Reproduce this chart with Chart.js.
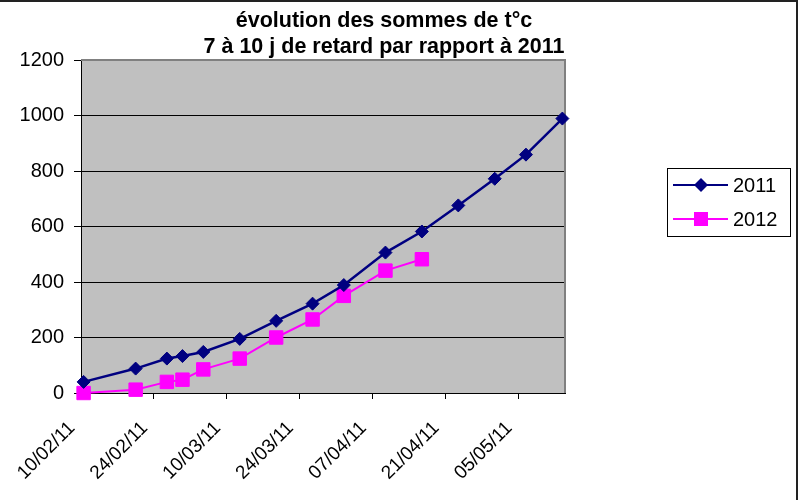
<!DOCTYPE html>
<html>
<head>
<meta charset="utf-8">
<script src="https://cdn.jsdelivr.net/npm/chart.js@4.4.0/dist/chart.umd.min.js"></script>
<style>
  html, body { margin: 0; padding: 0; background: #fff; }
  #wrap { width: 803px; height: 500px; }
</style>
</head>
<body>
<div id="wrap"><canvas id="myChart" width="803" height="500"></canvas></div>
<script>
// dates of the readings (same calendar for both years)
const dates = ["10/02", "20/02", "26/02", "01/03", "05/03", "12/03", "19/03", "26/03",
  "01/04", "09/04", "16/04", "23/04", "30/04", "06/05", "13/05"];
const sums2011 = [40, 88, 124, 133, 148, 195, 260, 322, 389, 506, 582, 676, 772, 859, 989];
const sums2012 = [0, 12, 40, 48, 85, 124, 200, 265, 350, 441, 482];
const yTicks = [0, 200, 400, 600, 800, 1000, 1200];
const xTickDays = [0, 14, 28, 42, 56, 70, 84];
const titleLines = ["évolution des sommes de t°c", "7 à 10 j de retard par rapport à 2011"];

const start = Date.UTC(2011, 1, 10);
const dayOf = (s) => {
  let [d, m] = s.split("/");
  return Math.round((Date.UTC(2011, +m - 1, +d) - start) / 86400000);
};
const fmt = (v) => {
  let d = new Date(start + v * 86400000);
  let dd = String(d.getUTCDate()).padStart(2, "0");
  let mm = String(d.getUTCMonth() + 1).padStart(2, "0");
  return dd + "/" + mm + "/11";
};
const pts = (vals) => vals.map((v, i) => ({ x: dayOf(dates[i]) + 0.5, y: v }));

const FONT = "Arial, 'Liberation Sans', sans-serif";

// grey plot area, grey top/right border, title, boxed legend, outer frame
const excelLook = {
  id: "excelLook",
  beforeDraw(chart) {
    let { ctx, chartArea: a } = chart;
    ctx.save();
    ctx.fillStyle = "#c0c0c0";
    ctx.fillRect(a.left, a.top, a.right - a.left, a.bottom - a.top);
    ctx.restore();
  },
  beforeDatasetsDraw(chart) {
    let { ctx, chartArea: a } = chart;
    ctx.save();
    ctx.strokeStyle = "#808080";
    ctx.lineWidth = 2;
    ctx.beginPath();
    ctx.moveTo(a.left, a.top);
    ctx.lineTo(a.right, a.top);
    ctx.lineTo(a.right, a.bottom);
    ctx.stroke();
    ctx.restore();
  },
  afterDraw(chart) {
    let ctx = chart.ctx;
    ctx.save();
    // title
    ctx.fillStyle = "#000";
    ctx.font = "bold 21.5px " + FONT;
    ctx.textAlign = "center";
    ctx.textBaseline = "alphabetic";
    ctx.fillText(titleLines[0], 384, 27);
    ctx.fillText(titleLines[1], 384, 53);

    // legend
    ctx.strokeStyle = "#000";
    ctx.lineWidth = 1;
    ctx.strokeRect(667.5, 168.5, 123, 68);
    ctx.font = "20px " + FONT;
    ctx.textAlign = "left";
    ctx.textBaseline = "middle";
    chart.data.datasets.forEach((ds, i) => {
      let y = 185 + i * 34;
      ctx.strokeStyle = ds.borderColor;
      ctx.lineWidth = 2;
      ctx.beginPath();
      ctx.moveTo(673, y);
      ctx.lineTo(728, y);
      ctx.stroke();
      ctx.fillStyle = ds.borderColor;
      ctx.beginPath();
      if (ds.pointStyle === "rectRot") {
        ctx.moveTo(701, y - 7);
        ctx.lineTo(708, y);
        ctx.lineTo(701, y + 7);
        ctx.lineTo(694, y);
        ctx.closePath();
      } else {
        ctx.rect(694, y - 7, 14, 14);
      }
      ctx.fill();
      ctx.fillStyle = "#000";
      ctx.fillText(ds.label, 733, y + 1);
    });

    // outer frame (top + right)
    ctx.strokeStyle = "#222";
    ctx.lineWidth = 2;
    ctx.beginPath();
    ctx.moveTo(0, 1);
    ctx.lineTo(797, 1);
    ctx.lineTo(797, 500);
    ctx.stroke();
    ctx.restore();
  },
};

new Chart("myChart", {
  type: "line",
  data: {
    datasets: [
      {
        label: "2011",
        data: pts(sums2011),
        borderColor: "#000080",
        backgroundColor: "#000080",
        borderWidth: 2.5,
        pointStyle: "rectRot",
        pointRadius: 6.5,
        pointBorderWidth: 1,
        clip: false,
      },
      {
        label: "2012",
        data: pts(sums2012),
        borderColor: "#ff00ff",
        backgroundColor: "#ff00ff",
        borderWidth: 2,
        pointStyle: "rect",
        pointRadius: 9.5,
        pointBorderWidth: 1,
        clip: false,
      },
    ],
  },
  options: {
    responsive: false,
    animation: false,
    layout: { padding: { top: 60, right: 238, left: 0, bottom: 0 } },
    plugins: {
      legend: { display: false },
      title: { display: false },
      tooltip: { enabled: false },
    },
    scales: {
      x: {
        type: "linear",
        min: 0,
        max: 93,
        afterBuildTicks: (s) => { s.ticks = xTickDays.map((v) => ({ value: v })); },
        afterFit: (s) => { s.height = 107; },
        grid: { drawOnChartArea: false, drawTicks: true, tickLength: 6, color: "#000", tickColor: "#000" },
        border: { color: "#000", width: 1 },
        ticks: {
          autoSkip: false,
          maxRotation: 45,
          minRotation: 45,
          padding: 18,
          labelOffset: -9,
          color: "#000",
          font: { family: FONT, size: 19 },
          callback: (v) => fmt(v),
        },
      },
      y: {
        min: 0,
        max: 1200,
        afterBuildTicks: (s) => { s.ticks = yTicks.map((v) => ({ value: v })); },
        afterFit: (s) => { s.width = 81; },
        grid: {
          color: (c) => (c.tick && c.tick.value === 1200 ? "#808080" : "#000"),
          tickColor: "#000",
          tickLength: 7,
          lineWidth: 1,
        },
        border: { color: "#000", width: 1 },
        ticks: {
          padding: 10,
          color: "#000",
          font: { family: FONT, size: 20 },
          callback: (v) => String(v),
        },
      },
    },
  },
  plugins: [excelLook],
});
</script>
</body>
</html>
